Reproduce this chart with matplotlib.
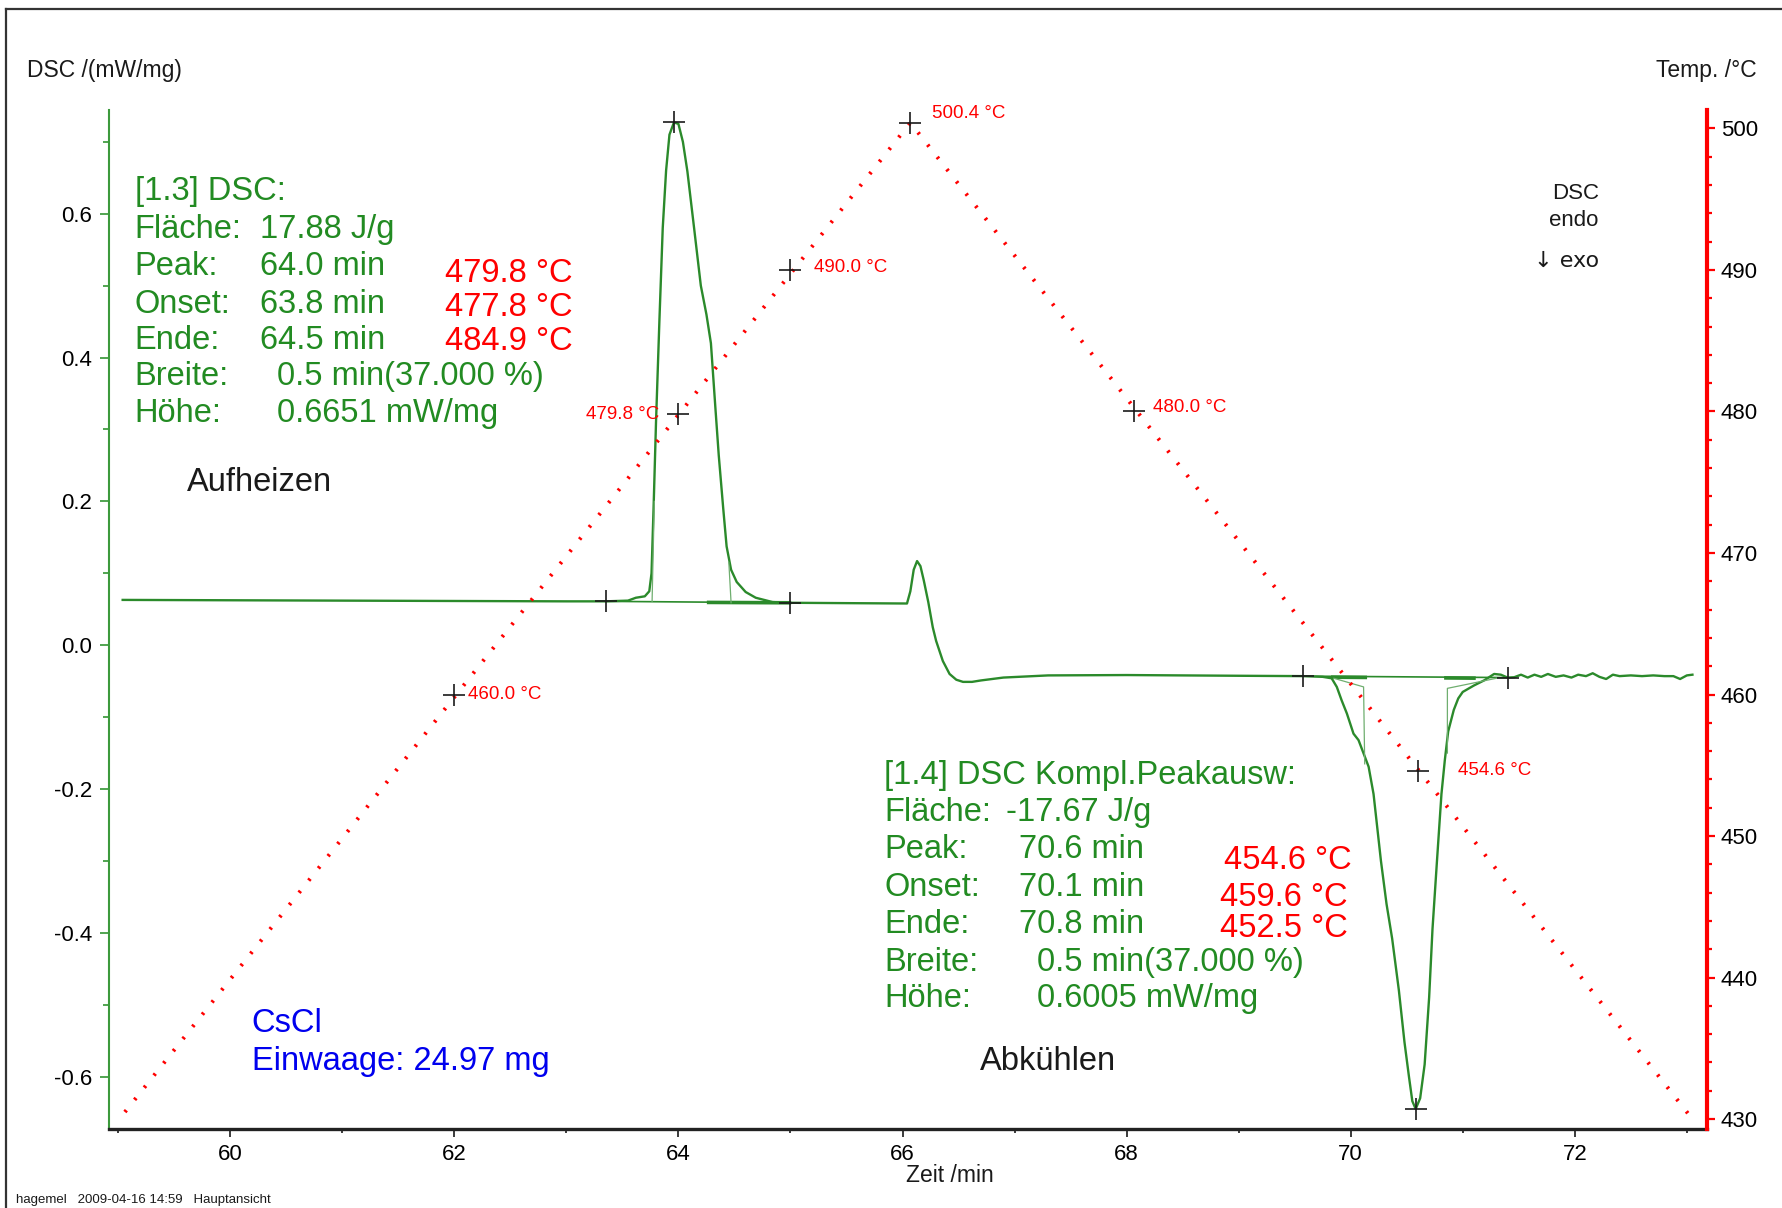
"""DSC / temperature curve of CsCl (heating and cooling run)."""

import matplotlib
matplotlib.use("Agg")
import matplotlib.pyplot as plt
from matplotlib.lines import Line2D
from matplotlib.ticker import MultipleLocator, FormatStrFormatter

plt.rcParams["font.family"] = ["Liberation Sans", "DejaVu Sans"]
plt.rcParams["axes.unicode_minus"] = False

GREEN = "#228b22"
CURVE = "#2b8a2b"
RED = "#ff0000"
BLUE = "#0000ee"
INK = "#1a1a1a"

# --- DSC signal (mW/mg) vs time (min) --------------------------------------
dsc_time = [
    59.04, 60.0, 61.0, 62.0, 63.0, 63.35, 63.55, 63.62, 63.70, 63.74,
    63.76, 63.78, 63.80, 63.83, 63.86, 63.89, 63.92, 63.96, 64.00, 64.04,
    64.08, 64.14, 64.20, 64.25, 64.29, 64.33, 64.36, 64.40, 64.43, 64.47,
    64.52, 64.60, 64.69, 64.84, 65.00, 65.50, 66.04,
    66.07, 66.10, 66.13, 66.16, 66.19, 66.23, 66.27, 66.30, 66.36, 66.42,
    66.48, 66.54, 66.62, 66.70, 66.90, 67.30, 68.00, 69.00, 69.57, 69.75,
    69.83, 69.876, 69.92, 69.966, 70.025, 70.07, 70.16, 70.204, 70.27, 70.32,
    70.37, 70.43, 70.48, 70.52, 70.55, 70.58, 70.62, 70.66, 70.70, 70.73,
    70.77, 70.81, 70.84, 70.87, 70.92, 70.96, 71.00, 71.10, 71.19, 71.28,
    71.34, 71.40,
    71.46, 71.52, 71.58, 71.64, 71.70, 71.76, 71.83, 71.90, 71.97, 72.03,
    72.10, 72.16, 72.22, 72.28, 72.34, 72.40, 72.50, 72.60, 72.70, 72.80,
    72.88, 72.94, 73.00, 73.05,
]
dsc_value = [
    0.063, 0.0625, 0.062, 0.0615, 0.061, 0.061, 0.062, 0.066, 0.068, 0.075,
    0.10, 0.20, 0.31, 0.45, 0.58, 0.66, 0.71, 0.727, 0.725, 0.70,
    0.659, 0.58, 0.50, 0.46, 0.42, 0.33, 0.264, 0.19, 0.1375, 0.105,
    0.088, 0.074, 0.066, 0.060, 0.059, 0.0585, 0.058,
    0.075, 0.105, 0.117, 0.110, 0.090, 0.060, 0.025, 0.006, -0.022, -0.040,
    -0.048, -0.051, -0.051, -0.049, -0.045, -0.042, -0.0415, -0.0425, -0.043, -0.044,
    -0.046, -0.058, -0.077, -0.095, -0.123, -0.132, -0.169, -0.207, -0.30, -0.36,
    -0.408, -0.48, -0.552, -0.60, -0.634, -0.645, -0.63, -0.583, -0.49, -0.395,
    -0.30, -0.207, -0.16, -0.12, -0.09, -0.074, -0.065, -0.056, -0.049, -0.040,
    -0.041, -0.045,
    -0.0445, -0.041, -0.045, -0.041, -0.044, -0.040, -0.044, -0.042, -0.045, -0.041,
    -0.043, -0.039, -0.044, -0.047, -0.041, -0.043, -0.042, -0.043, -0.042, -0.043,
    -0.043, -0.047, -0.042, -0.041,
]

# evaluation construction lines (baselines / tangents)
p1_base_t, p1_base_v = [63.35, 65.0], [0.061, 0.059]
p1_thick_t, p1_thick_v = [64.27, 64.99], [0.0595, 0.059]
p1_onset_t, p1_onset_v = [63.765, 63.785], [0.061, 0.20]
p1_end_t, p1_end_v = [64.47, 64.45], [0.059, 0.115]
p2_base_t, p2_base_v = [69.57, 71.40], [-0.043, -0.045]
p2_thick_l_t, p2_thick_l_v = [69.84, 70.13], [-0.0445, -0.0448]
p2_thick_r_t, p2_thick_r_v = [70.85, 71.10], [-0.0455, -0.0458]
p2_left_t, p2_left_v = [69.85, 70.115, 70.125], [-0.046, -0.058, -0.165]
p2_right_t, p2_right_v = [71.30, 70.863, 70.863], [-0.046, -0.060, -0.15]

# characteristic points on the DSC curve
dsc_mark_t = [63.35, 63.96, 65.0, 69.57, 71.40, 70.58]
dsc_mark_v = [0.061, 0.727, 0.059, -0.043, -0.045, -0.645]

# --- temperature programme (°C) ---------------------------------------------
temp_time = [59.06, 66.07, 73.04]
temp_value = [430.5, 500.4, 430.1]
temp_mark_t = [62.0, 64.0, 65.0, 66.07, 68.07, 70.6]
temp_mark_v = [460.0, 479.8, 490.0, 500.4, 480.0, 454.6]
# label offsets in points (dx, dy) and alignment
temp_label_off = [(10, 0), (-14, 0), (17, 1.5), (15.5, 6.5), (13, 3), (28.5, 0)]
temp_label_ha = ["left", "right", "left", "left", "left", "left"]

# --- evaluation result blocks -----------------------------------------------
heat_title = "[1.3] DSC:"
heat_labels = ["Fläche:", "Peak:", "Onset:", "Ende:", "Breite:", "Höhe:"]
heat_values = ["17.88 J/g", "64.0 min", "63.8 min", "64.5 min",
               "0.5 min(37.000 %)", "0.6651 mW/mg"]
heat_temps = ["479.8 °C", "477.8 °C", "484.9 °C"]

cool_title = "[1.4] DSC Kompl.Peakausw:"
cool_labels = ["Fläche:", "Peak:", "Onset:", "Ende:", "Breite:", "Höhe:"]
cool_values = ["-17.67 J/g", "70.6 min", "70.1 min", "70.8 min",
               "0.5 min(37.000 %)", "0.6005 mW/mg"]
cool_temps = ["454.6 °C", "459.6 °C", "452.5 °C"]

W, H = 1783, 1208
fig = plt.figure(figsize=(W / 100, H / 100), dpi=100)
ax = fig.add_axes([109 / W, 1 - 1129 / H, (1707 - 109) / W, (1129 - 110) / H])
ax2 = ax.twinx()

# DSC trace and evaluation lines
ax.plot(dsc_time, dsc_value, color=CURVE, lw=1.7, zorder=3)
for t, v in [(p1_base_t, p1_base_v), (p2_base_t, p2_base_v)]:
    ax.plot(t, v, color=CURVE, lw=1.2, zorder=3)
for t, v in [(p1_thick_t, p1_thick_v), (p2_thick_l_t, p2_thick_l_v),
             (p2_thick_r_t, p2_thick_r_v)]:
    ax.plot(t, v, color=CURVE, lw=2.6, zorder=3)
for t, v in [(p1_onset_t, p1_onset_v), (p1_end_t, p1_end_v),
             (p2_left_t, p2_left_v), (p2_right_t, p2_right_v)]:
    ax.plot(t, v, color="#6fae6f", lw=0.9, zorder=3)
ax.plot(dsc_mark_t, dsc_mark_v, ls="none", marker="+", ms=16, mew=1.2,
        color=INK, zorder=5)

# temperature programme
ax2.plot(temp_time, temp_value, color=RED, lw=2.8, ls=(0, (0.6, 3.4)),
         dash_capstyle="butt", zorder=2)
ax2.plot(temp_mark_t, temp_mark_v, ls="none", marker="+", ms=16, mew=1.2,
         color=INK, zorder=5)
for t, v, off, ha in zip(temp_mark_t, temp_mark_v, temp_label_off, temp_label_ha):
    ax2.annotate(f"{v:.1f} °C", xy=(t, v), xytext=off, textcoords="offset points",
                 ha=ha, va="center", color=RED, fontsize=13.5)

# axes limits and ticks
ax.set_xlim(58.918, 73.18)
ax.set_ylim(-0.6728, 0.7443)
ax2.set_ylim(429.3, 501.3)

ax.xaxis.set_major_locator(MultipleLocator(2))
ax.xaxis.set_minor_locator(MultipleLocator(1))
ax.yaxis.set_major_locator(MultipleLocator(0.2))
ax.yaxis.set_minor_locator(MultipleLocator(0.1))
ax.yaxis.set_major_formatter(FormatStrFormatter("%.1f"))
ax2.yaxis.set_major_locator(MultipleLocator(10))
ax2.yaxis.set_minor_locator(MultipleLocator(2))

ax.tick_params(axis="x", which="major", length=5.5, width=1.2, color=INK,
               labelsize=16, pad=5)
ax.tick_params(axis="x", which="minor", length=3, width=1.2, color=INK)
ax.tick_params(axis="y", which="major", length=6.2, width=1.1, color=GREEN,
               labelsize=16, pad=6)
ax.tick_params(axis="y", which="minor", length=4, width=1.1, color=GREEN)
ax2.tick_params(axis="y", which="major", length=5.8, width=1.6, color=RED,
                labelsize=16, pad=4)
ax2.tick_params(axis="y", which="minor", length=3.8, width=1.6, color=RED)

for a in (ax, ax2):
    for side in ("top", "left", "right", "bottom"):
        a.spines[side].set_visible(False)
ax.spines["left"].set_visible(True)
ax.spines["left"].set_color("#3c9a3c")
ax.spines["left"].set_linewidth(1.5)
ax.spines["bottom"].set_visible(True)
ax.spines["bottom"].set_color("#222222")
ax.spines["bottom"].set_linewidth(2.4)
ax2.spines["right"].set_visible(True)
ax2.spines["right"].set_color(RED)
ax2.spines["right"].set_linewidth(3)

# result blocks
fs = 23.5
ax.text(59.147, 0.6308, heat_title, color=GREEN, fontsize=fs, va="center")
heat_y = [0.5787, 0.5265, 0.4743, 0.4237, 0.3731, 0.3225]
heat_vx = [60.264, 60.264, 60.264, 60.264, 60.416, 60.416]
for lbl, val, y, vx in zip(heat_labels, heat_values, heat_y, heat_vx):
    ax.text(59.147, y, lbl, color=GREEN, fontsize=fs, va="center")
    ax.text(vx, y, val, color=GREEN, fontsize=fs, va="center")
for txt, y in zip(heat_temps, [0.517, 0.4696, 0.4221]):
    ax.text(61.919, y, txt, color=RED, fontsize=fs, va="center")

ax.text(65.838, -0.1818, cool_title, color=GREEN, fontsize=fs, va="center")
cool_y = [-0.2324, -0.2846, -0.3368, -0.3889, -0.4411, -0.4917]
cool_vx = [66.924, 67.036, 67.036, 67.036, 67.198, 67.198]
for lbl, val, y, vx in zip(cool_labels, cool_values, cool_y, cool_vx):
    ax.text(65.838, y, lbl, color=GREEN, fontsize=fs, va="center")
    ax.text(vx, y, val, color=GREEN, fontsize=fs, va="center")
for txt, y, x in zip(cool_temps, [-0.2998, -0.3513, -0.394], [68.873, 68.832, 68.832]):
    ax.text(x, y, txt, color=RED, fontsize=fs, va="center")

ax.text(59.614, 0.226, "Aufheizen", color=INK, fontsize=fs, va="center")
ax.text(66.69, -0.5787, "Abkühlen", color=INK, fontsize=fs, va="center")
ax.text(60.193, -0.5265, "CsCl", color=BLUE, fontsize=fs, va="center")
ax.text(60.193, -0.5787, "Einwaage: 24.97 mg", color=BLUE, fontsize=fs, va="center")

ax.text(72.213, 0.6277, "DSC", color=INK, fontsize=16, ha="right", va="center")
ax.text(72.213, 0.5913, "endo", color=INK, fontsize=16, ha="right", va="center")
ax.text(72.213, 0.5344, "↓ exo", color=INK, fontsize=16, ha="right", va="center",
        family=["DejaVu Sans"])

# axis titles and footer
fig.text(27 / W, 1 - 70.5 / H, "DSC /(mW/mg)", fontsize=16.5, color=INK, va="center")
fig.text(1757 / W, 1 - 70.5 / H, "Temp. /°C", fontsize=16.5, color=INK,
         ha="right", va="center")
fig.text(950 / W, 1 - 1176 / H, "Zeit /min", fontsize=16.5, color=INK,
         ha="center", va="center")
fig.text(16 / W, 1 - 1200 / H, "hagemel   2009-04-16 14:59   Hauptansicht",
         fontsize=9.5, color=INK, va="center")

# frame around the page
fig.add_artist(Line2D([6 / W, 6 / W], [0, 1 - 9 / H], transform=fig.transFigure,
                      color="#333333", lw=1.6))
fig.add_artist(Line2D([6 / W, 1], [1 - 9 / H, 1 - 9 / H], transform=fig.transFigure,
                      color="#333333", lw=1.6))

fig.savefig("out.png", dpi=100)
plt.close(fig)
